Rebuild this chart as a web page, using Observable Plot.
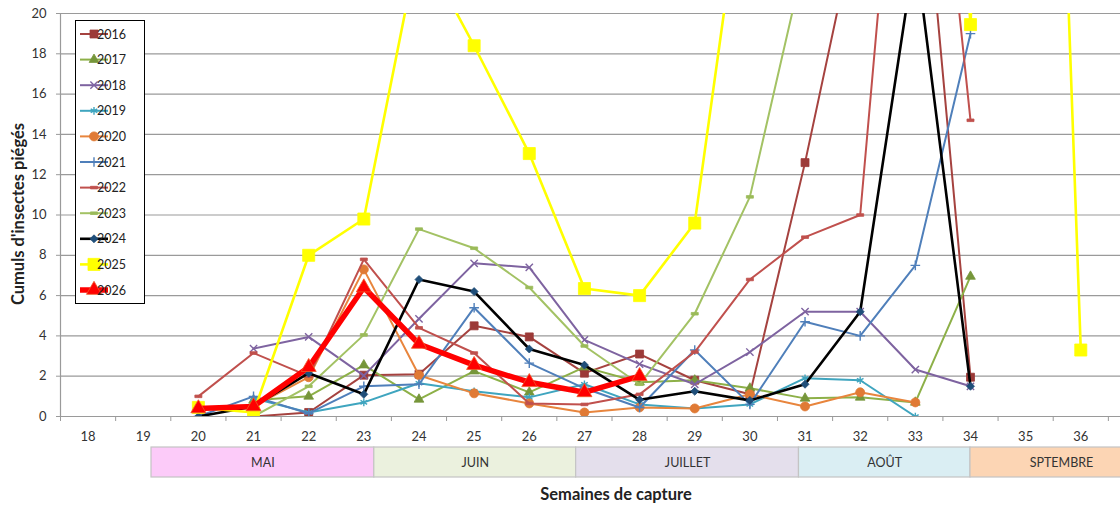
<!DOCTYPE html>
<html><head><meta charset="utf-8">
<script src="https://cdn.jsdelivr.net/npm/d3@7"></script>
<script src="https://cdn.jsdelivr.net/npm/@observablehq/plot@0.6"></script>
<style>
body{margin:0;background:#fff;font-family:Lato,"Liberation Sans",sans-serif;}
#wrap{position:relative;width:1120px;height:506px;overflow:hidden;background:#fff;}
#main{position:absolute;left:0;top:0;}
#band{position:absolute;left:0;top:446px;}
#xtitle{position:absolute;left:616px;top:494px;transform:translate(-50%,-50%);font-weight:bold;font-size:16.5px;color:#222;white-space:nowrap;}
#ytitle{position:absolute;left:18px;top:214px;transform:translate(-50%,-50%) rotate(-90deg);font-weight:bold;font-size:16.5px;color:#222;white-space:nowrap;}
svg{overflow:hidden;}
</style></head><body>
<div id="wrap"><div id="main"></div><div id="band"></div><div id="xtitle">Semaines de capture</div><div id="ytitle">Cumuls d'insectes piégés</div></div>
<script>
// ---- data ----
const weeks = [20,21,22,23,24,25,26,27,28,29,30,31,32,33,34,35,36];
const axisWeeks = [18,19,20,21,22,23,24,25,26,27,28,29,30,31,32,33,34,35,36];
const yTicks = [0,2,4,6,8,10,12,14,16,18,20];
const years = ["2016","2017","2018","2019","2020","2021","2022","2023","2024","2025","2026"];
const v2016 = [null,0,0.2,2.05,2.1,4.5,3.95,2.15,3.1,1.8,1.1,12.6,25.4,32,1.95,null,null];
const v2017 = [null,0.8,1.0,2.55,0.85,2.25,1.2,2.45,1.7,1.8,1.4,0.9,0.95,0.7,6.95,null,null];
const v2018 = [null,3.37,3.95,2.03,4.85,7.6,7.4,3.8,2.6,1.6,3.2,5.2,5.2,2.33,1.5,null,null];
const v2019 = [null,0.9,0.2,0.7,1.65,1.25,0.95,1.6,0.6,0.4,0.6,1.9,1.8,0,null,null,null];
const v2020 = [null,0.5,1.95,7.3,2.05,1.15,0.65,0.2,0.45,0.4,1.1,0.5,1.2,0.7,null,null,null];
const v2021 = [0,1.0,0.15,1.5,1.6,5.4,2.65,1.4,0.45,3.3,0.6,4.7,4.0,7.5,19.0,null,null];
const v2022 = [1.0,3.15,2.0,7.8,4.4,3.15,0.65,0.6,1.1,3.2,6.8,8.9,10.0,41,14.7,null,null];
const v2023 = [null,0,1.5,4.05,9.3,8.35,6.4,3.5,1.6,5.1,10.9,22.8,null,null,null,null,null];
const v2024 = [0,0.5,2.15,1.1,6.8,6.2,3.35,2.55,0.83,1.25,0.8,1.6,5.2,23.2,1.5,null,null];
const v2025 = [0.45,0.2,8.0,9.8,23.5,18.4,13.05,6.35,6.0,9.6,29.3,40,50,60,19.45,80,3.3];
const v2026 = [0.4,0.5,2.45,6.4,3.6,2.55,1.7,1.2,2.0,null,null,null,null,null,null,null,null];
const values = [v2016,v2017,v2018,v2019,v2020,v2021,v2022,v2023,v2024,v2025,v2026];
const months = ["MAI","JUIN","JUILLET","AOÛT","SPTEMBRE"];
const monthStart = [19.15,23.19,26.85,30.89,34.0];
const monthEnd = [23.19,26.85,30.89,34.0,37.3];

// ---- styles ----
const dash = {draw(ctx,size){const w=Math.sqrt(size)*0.55;ctx.rect(-w,-1.3,2*w,2.6);}};
const lineColor = ["#A5423F","#8DB048","#7E63A0","#3FA5BF","#E8853D","#4F7FBA","#C0504D","#A3C264","#000000","#FFFF00","#FF0000"];
const markColor = ["#9C3A38","#76963A","#7E63A0","#3FA5BF","#E07A35","#4F7FBA","#C0504D","#9BBB59","#1F4E79","#FFFF00","#FF0000"];
const symbols = [d3.symbolSquare,d3.symbolTriangle,d3.symbolTimes,d3.symbolAsterisk,d3.symbolCircle,d3.symbolPlus,dash,dash,d3.symbolDiamond2,d3.symbolSquare,d3.symbolTriangle];
const radius = [4.5,3.6,3.4,3.6,4.5,3.2,3.6,3.6,3.6,6.8,5.6];
const hollow = [false,false,true,true,false,true,false,false,false,false,false];
const lineWidth = [2,2,2,2,2,2,2,2,2.6,2.6,5.5];
const monthFill = ["#FCCBF9","#EBF1DE","#E4DFEC","#DAEEF3","#FCD5B4"];

const W = 1120, ML = 60, MT = 13, MB = 29, H = 445;
const xDomain = [17.5, 36.72];
const font = "Lato, 'Liberation Sans', sans-serif";

const marks = [
  Plot.gridY(yTicks, {stroke:"#9a9a9a", strokeOpacity:1, strokeWidth:1.2}),
  Plot.ruleY([0], {stroke:"#9a9a9a", strokeWidth:1.2}),
  Plot.ruleX([17.5], {stroke:"#9a9a9a", strokeWidth:1.2}),
  Plot.axisY(yTicks, {tickSize:4, tickPadding:10, stroke:"#9a9a9a", fill:"#333", fontSize:13, label:null}),
  Plot.axisX(axisWeeks, {tickSize:0, tickPadding:15, fill:"#333", fontSize:13, label:null}),
  Plot.axisX(axisWeeks.concat([37]).map(d=>d-0.5), {tickSize:5, tickFormat:()=>"", stroke:"#9a9a9a", label:null})
];
years.forEach((yr,i)=>{
  const data = weeks.map((w,j)=>({week:w, value:values[i][j]})).filter(d=>d.value!=null);
  marks.push(Plot.line(data, {x:"week", y:"value", stroke:lineColor[i], strokeWidth:lineWidth[i], clip:true}));
  marks.push(Plot.dot(data, {x:"week", y:"value", symbol:symbols[i], r:radius[i],
    fill: hollow[i] ? "none" : markColor[i], stroke: hollow[i] ? markColor[i] : (i===10 ? "#F05A28" : markColor[i]),
    strokeWidth: hollow[i] ? 1.4 : 0.8, clip:true}));
});

const chart = Plot.plot({
  width:W, height:H, marginLeft:ML, marginRight:0, marginTop:MT, marginBottom:MB,
  style:{fontFamily:font, background:"#fff"},
  x:{domain:xDomain}, y:{domain:[0,20]},
  marks
});
document.getElementById("main").appendChild(chart);

// legend
const svg = d3.select(chart);
const lg = svg.append("g");
lg.append("rect").attr("x",75.5).attr("y",20.5).attr("width",69).attr("height",283).attr("fill","#fff").attr("stroke","#000").attr("stroke-width",1);
years.forEach((yr,i)=>{
  const y = 34 + i*25.6;
  lg.append("line").attr("x1",80).attr("x2",108).attr("y1",y).attr("y2",y).attr("stroke",lineColor[i]).attr("stroke-width",lineWidth[i]);
  lg.append("path").attr("transform",`translate(94,${y})`)
    .attr("d", d3.symbol(symbols[i], Math.PI*radius[i]*radius[i])())
    .attr("fill", hollow[i] ? "none" : markColor[i])
    .attr("stroke", hollow[i] ? markColor[i] : (i===10 ? "#F05A28" : markColor[i]))
    .attr("stroke-width", hollow[i] ? 1.4 : 0.8);
  lg.append("text").attr("x",111.5).attr("y",y+4.5).attr("font-size",12.5).attr("font-family",font).attr("fill","#222").text(yr);
});

// month band
const monthData = months.map((m,i)=>({name:m, start:monthStart[i], end:monthEnd[i]}));
const band = Plot.plot({
  width:W, height:32, marginLeft:ML, marginRight:0, marginTop:1, marginBottom:1,
  style:{fontFamily:font, background:"transparent"},
  x:{domain:xDomain, axis:null}, y:{domain:[0,1], axis:null},
  marks:[
    Plot.rect(monthData, {x1:"start", x2:"end", y1:0, y2:1, fill:(d,i)=>monthFill[i], stroke:"#c4c4c4", strokeWidth:1.2}),
    Plot.text(monthData, {x:d=>(d.start+d.end)/2, y:0.5, text:"name", fontSize:12.5, fill:"#333"})
  ]
});
document.getElementById("band").appendChild(band);
</script>
</body></html>
